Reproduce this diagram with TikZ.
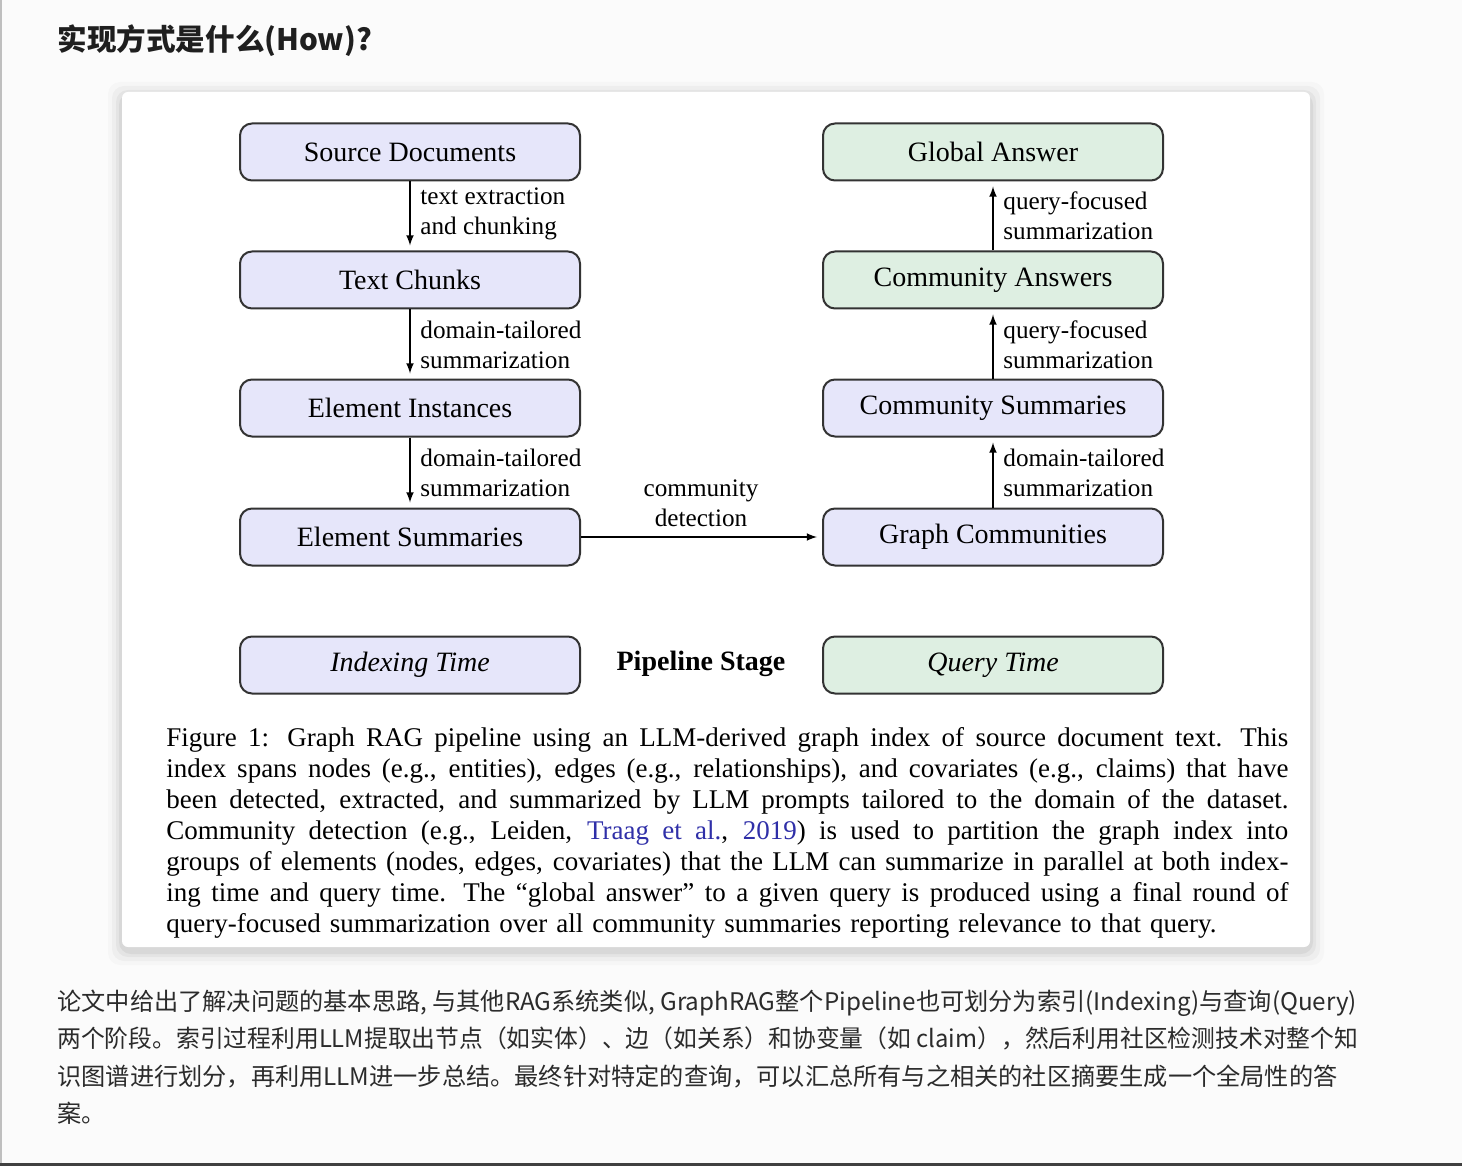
\documentclass[tikz,border=0pt]{standalone}
\usepackage{fontspec}
\usepackage{xcolor}
\usepackage{graphicx}
\usepackage{tikz}
\setmainfont{Liberation Serif}
\newfontfamily\cjk{Noto Sans CJK SC}
\usetikzlibrary{arrows}
\definecolor{idxfill}{HTML}{E6E6FA}
\definecolor{qryfill}{HTML}{DEEFE2}
\definecolor{linkblue}{HTML}{2F2FA8}
\definecolor{pagebg}{HTML}{FBFBFB}
\definecolor{bodytext}{HTML}{2B2B2B}
\newcommand{\capline}[1]{\leavevmode{\spaceskip=0.25em plus 1em minus 0.05em
  \xspaceskip=0.5em plus 1em minus 0.05em\hbox to 561pt{#1}}}

\begin{document}
\begin{tikzpicture}[x=0.5pt,y=-0.5pt,
  stagebox/.style={draw=black!80, line width=1pt, rounded corners=6pt,
    minimum width=170pt, minimum height=28.5pt, inner sep=0pt,
    font=\fontsize{14}{16}\selectfont},
  idxbox/.style={stagebox, fill=idxfill},
  qrybox/.style={stagebox, fill=qryfill},
  steplbl/.style={align=left, inner sep=0pt, anchor=west,
    font=\fontsize{12.6}{15}\selectfont},
  flow/.style={->, >=latex, line width=0.75pt, shorten >=2.5pt},
  cjkline/.style={anchor=base west, inner sep=0pt, text=bodytext,
    font=\cjk\fontsize{12.1}{14}\selectfont}]
  \useasboundingbox (0,0) rectangle (1462,1166);
  \fill[pagebg] (0,0) rectangle (1462,1166);
  \fill[black!25] (0,0) rectangle (2,1166);
  \fill[black!75] (0,1163) rectangle (1462,1166);

  \node[anchor=base west, inner sep=0pt, text=black!88,
    font=\cjk\bfseries\fontsize{14.8}{18}\selectfont] (title) at (57,51) {实现方式是什么(How)?};

  \foreach \s/\o in {14/0.02,10/0.03,6/0.04,3/0.05}
    \fill[black, opacity=\o, rounded corners=6pt] (122-\s,92-\s+4) rectangle (1310+\s,947+\s+4);
  \fill[white, rounded corners=3pt] (122,92) rectangle (1310,947);

  \node[idxbox] (srcdocs) at (410,152) {Source Documents};
  \node[idxbox] (chunks) at (410,280) {Text Chunks};
  \node[idxbox] (elinst) at (410,408) {Element Instances};
  \node[idxbox] (elsum) at (410,537) {Element Summaries};
  \node[qrybox] (global) at (993,152) {Global Answer};
  \node[qrybox] (commans) at (993,280) {Community Answers};
  \node[idxbox] (commsum) at (993,408) {Community Summaries};
  \node[idxbox] (graphcomm) at (993,537) {Graph Communities};

  \draw[flow] (srcdocs) -- (chunks);
  \draw[flow] (chunks) -- (elinst);
  \draw[flow] (elinst) -- (elsum);
  \draw[flow] (elsum) -- (graphcomm);
  \draw[flow] (graphcomm) -- (commsum);
  \draw[flow] (commsum) -- (commans);
  \draw[flow] (commans) -- (global);

  \node[steplbl] (lbla) at (420,214) {text extraction\\and chunking};
  \node[steplbl] (lblb) at (420,345) {domain-tailored\\summarization};
  \node[steplbl] (lblc) at (420,473) {domain-tailored\\summarization};
  \node[steplbl] (lbld) at (1003,216) {query-focused\\summarization};
  \node[steplbl] (lble) at (1003,345) {query-focused\\summarization};
  \node[steplbl] (lblf) at (1003,473) {domain-tailored\\summarization};
  \node[steplbl, anchor=center, align=center] (lblg) at (701,503) {community\\detection};

  \node[idxbox, font=\fontsize{14}{16}\selectfont\itshape] (idxtime) at (410,665) {Indexing Time};
  \node[font=\fontsize{14}{16}\selectfont\bfseries] (stage) at (701,664) {Pipeline Stage};
  \node[qrybox, font=\fontsize{14}{16}\selectfont\itshape] (qrytime) at (993,665) {Query Time};

  \node[anchor=base west, inner sep=0pt, text width=561pt, align=left,
    font=\fontsize{13.5}{15.5}\selectfont] (caption) at (166,746) {%
\capline{Figure 1: Graph RAG pipeline using an LLM-derived graph index of source document text. This}\\
\capline{index spans nodes (e.g., entities), edges (e.g., relationships), and covariates (e.g., claims) that have}\\
\capline{been detected, extracted, and summarized by LLM prompts tailored to the domain of the dataset.}\\
\capline{Community detection (e.g., Leiden, \textcolor{linkblue}{Traag et al.}, \textcolor{linkblue}{2019}) is used to partition the graph index into}\\
\capline{groups of elements (nodes, edges, covariates) that the LLM can summarize in parallel at both index-}\\
\capline{ing time and query time. The ``global answer'' to a given query is produced using a final round of}\\
query-focused summarization over all community summaries reporting relevance to that query.};

  \node[cjkline] (parai) at (57,1010) {论文中给出了解决问题的基本思路, 与其他RAG系统类似, GraphRAG整个Pipeline也可划分为索引(Indexing)与查询(Query)};
  \node[cjkline] (paraii) at (57,1047.5) {\scalebox{0.983}[1]{两个阶段。索引过程利用LLM提取出节点（如实体）、边（如关系）和协变量（如 claim），然后利用社区检测技术对整个知}};
  \node[cjkline] (paraiii) at (57,1085) {识图谱进行划分，再利用LLM进一步总结。最终针对特定的查询，可以汇总所有与之相关的社区摘要生成一个全局性的答};
  \node[cjkline] (paraiv) at (57,1122.5) {案。};
\end{tikzpicture}
\end{document}
